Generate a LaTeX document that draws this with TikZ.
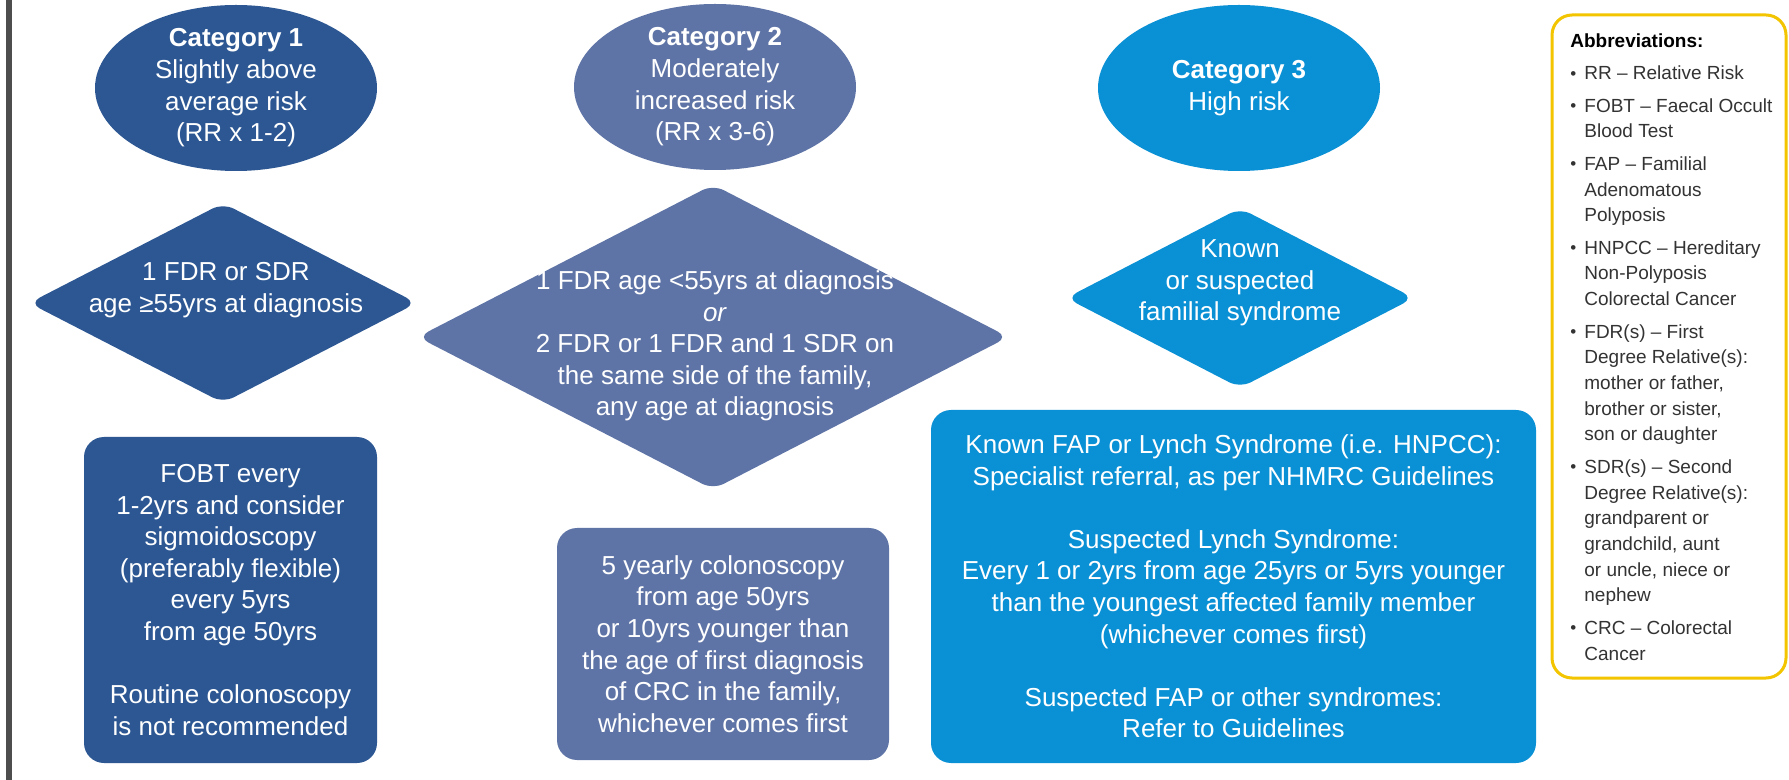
\documentclass[tikz,border=0pt]{standalone}
\usepackage{fontspec}
\setmainfont{Liberation Sans}
\usetikzlibrary{shapes.geometric}
\definecolor{cA}{HTML}{2C5793}
\definecolor{cB}{HTML}{5F74A6}
\definecolor{cC}{HTML}{0A90D5}
\definecolor{barcol}{HTML}{4D4D4D}
\definecolor{yel}{HTML}{F2C500}
\definecolor{abtxt}{HTML}{333333}
\newcommand\abitem{\par\hangindent=7pt\hangafter=1\noindent\makebox[7pt][l]{\raisebox{0.3pt}{\fontsize{8.5pt}{8.5pt}\selectfont •}}}
\begin{document}
\begin{tikzpicture}[x=0.5pt,y=-0.5pt,
  txt/.style={text=white, align=center, font=\fontsize{13pt}{15.8pt}\selectfont, inner sep=0pt},
  ell/.style={ellipse, minimum width=141pt, minimum height=83pt, inner sep=0pt},
  dia/.style={diamond, inner sep=0pt, rounded corners=6pt},
  boxnode/.style={rectangle, rounded corners=10pt, inner sep=0pt, text=white, align=center, font=\fontsize{13pt}{15.8pt}\selectfont},
]
\useasboundingbox (0,0) rectangle (1789,780);
\fill[white] (0,0) rectangle (1789,780);
\node[fill=barcol, minimum width=3pt, minimum height=390pt, inner sep=0pt] (bar) at (9,390) {};

% Category ellipses
\node[ell, fill=cA] (c1) at (236,88) {};
\node[txt] (c1t) at (236,88) {\textbf{Category 1}\\Slightly above\\average risk\\(RR x 1-2)};
\node[ell, fill=cB] (c2) at (715,87) {};
\node[txt] (c2t) at (715,87) {\textbf{Category 2}\\Moderately\\increased risk\\(RR x 3-6)};
\node[ell, fill=cC] (c3) at (1239,88) {};
\node[txt] (c3t) at (1239,88) {\textbf{Category 3}\\High risk};

% Diamonds
\node[dia, fill=cA, minimum width=194pt, minimum height=100pt] (d1) at (223,303) {};
\node[txt] (d1t) at (226,290) {1 FDR or SDR\\age ≥55yrs at diagnosis};
\node[dia, fill=cB, minimum width=295.5pt, minimum height=152.5pt] (d2) at (713,337) {};
\node[txt] (d2t) at (715,346) {1 FDR age <55yrs at diagnosis\\\textit{or}\\2 FDR or 1 FDR and 1 SDR on\\the same side of the family,\\any age at diagnosis};
\node[dia, fill=cC, minimum width=174pt, minimum height=90pt] (d3) at (1240,298) {};
\node[txt] (d3t) at (1240,283) {Known\\or suspected\\familial syndrome};

% Boxes
\node[boxnode, fill=cA, minimum width=146.5pt, minimum height=163pt] (b1) at (230.5,600)
  {FOBT every\\1-2yrs and consider\\sigmoidoscopy\\(preferably flexible)\\every 5yrs\\from age 50yrs\\[15.8pt]Routine colonoscopy\\is not recommended};
\node[boxnode, fill=cB, minimum width=166pt, minimum height=116pt] (b2) at (723,644)
  {5 yearly colonoscopy\\from age 50yrs\\or 10yrs younger than\\the age of first diagnosis\\of CRC in the family,\\whichever comes first};
\node[boxnode, fill=cC, minimum width=302.5pt, minimum height=176.5pt] (b3) at (1233.5,586.5)
  {Known FAP or Lynch Syndrome (i.e. HNPCC):\\Specialist referral, as per NHMRC Guidelines\\[15.8pt]Suspected Lynch Syndrome:\\Every 1 or 2yrs from age 25yrs or 5yrs younger\\than the youngest affected family member\\(whichever comes first)\\[15.8pt]Suspected FAP or other syndromes:\\Refer to Guidelines};

% Abbreviations
\node[draw=yel, line width=1.5pt, rounded corners=10pt, minimum width=117pt, minimum height=331.5pt, inner sep=0pt] (ab) at (1669,346.5) {};
\node[anchor=north west, inner sep=0pt] (abt) at (1570,33) {\begin{minipage}[t]{110pt}\fontsize{9.5pt}{12.85pt}\selectfont\color{abtxt}\parskip=3.4pt\parindent=0pt
\noindent\textbf{\color{black}Abbreviations:}
\abitem RR – Relative Risk
\abitem FOBT – Faecal Occult\\Blood Test
\abitem FAP – Familial\\Adenomatous\\Polyposis
\abitem HNPCC – Hereditary\\Non-Polyposis\\Colorectal Cancer
\abitem FDR(s) – First\\Degree Relative(s):\\mother or father,\\brother or sister,\\son or daughter
\abitem SDR(s) – Second\\Degree Relative(s):\\grandparent or\\grandchild, aunt\\or uncle, niece or\\nephew
\abitem CRC – Colorectal\\Cancer\par
\end{minipage}};
\end{tikzpicture}
\end{document}
